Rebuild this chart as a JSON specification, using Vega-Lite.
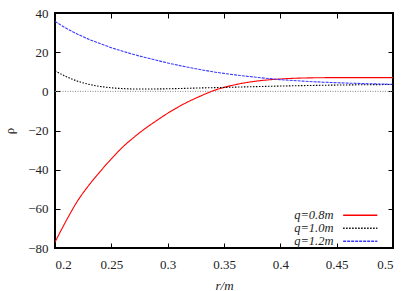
{
  "$schema": "https://vega.github.io/schema/vega-lite/v6.json",
  "width": 338,
  "height": 235,
  "autosize": "none",
  "padding": {"left": 55, "top": 13, "right": 22, "bottom": 43},
  "background": "white",
  "config": {
    "view": {"stroke": "black", "strokeWidth": 2},
    "font": "Liberation Serif",
    "style": {"guide-label": {"font": "Liberation Serif"}, "guide-title": {"font": "Liberation Serif"}},
    "axis": {
      "labelFont": "Liberation Serif",
      "titleFont": "Liberation Serif",
      "labelFontSize": 13,
      "titleFontSize": 13,
      "labelColor": "#222",
      "titleColor": "#222",
      "grid": false,
      "domain": false,
      "tickColor": "black",
      "tickSize": -5,
      "labelPadding": 15
    },
    "legend": {
      "labelFont": "Liberation Serif",
      "labelFontSize": 12.5,
      "labelFontStyle": "italic",
      "labelColor": "#222"
    }
  },
  "datasets": {
    "curves": [
      {"r": 0.2, "rho": -77, "q": "q=0.8m"},
      {"r": 0.21, "rho": -66, "q": "q=0.8m"},
      {"r": 0.22, "rho": -56, "q": "q=0.8m"},
      {"r": 0.23, "rho": -48, "q": "q=0.8m"},
      {"r": 0.24, "rho": -41, "q": "q=0.8m"},
      {"r": 0.25, "rho": -34.5, "q": "q=0.8m"},
      {"r": 0.26, "rho": -28.5, "q": "q=0.8m"},
      {"r": 0.27, "rho": -23.5, "q": "q=0.8m"},
      {"r": 0.28, "rho": -19, "q": "q=0.8m"},
      {"r": 0.29, "rho": -15, "q": "q=0.8m"},
      {"r": 0.3, "rho": -11.2, "q": "q=0.8m"},
      {"r": 0.31, "rho": -7.8, "q": "q=0.8m"},
      {"r": 0.32, "rho": -4.8, "q": "q=0.8m"},
      {"r": 0.33, "rho": -2.2, "q": "q=0.8m"},
      {"r": 0.34, "rho": 0.2, "q": "q=0.8m"},
      {"r": 0.35, "rho": 2.0, "q": "q=0.8m"},
      {"r": 0.36, "rho": 3.4, "q": "q=0.8m"},
      {"r": 0.37, "rho": 4.5, "q": "q=0.8m"},
      {"r": 0.38, "rho": 5.3, "q": "q=0.8m"},
      {"r": 0.39, "rho": 5.9, "q": "q=0.8m"},
      {"r": 0.4, "rho": 6.3, "q": "q=0.8m"},
      {"r": 0.42, "rho": 6.8, "q": "q=0.8m"},
      {"r": 0.45, "rho": 7.0, "q": "q=0.8m"},
      {"r": 0.5, "rho": 7.0, "q": "q=0.8m"},
      {"r": 0.2, "rho": 10.5, "q": "q=1.0m"},
      {"r": 0.21, "rho": 7.5, "q": "q=1.0m"},
      {"r": 0.22, "rho": 5.2, "q": "q=1.0m"},
      {"r": 0.23, "rho": 3.6, "q": "q=1.0m"},
      {"r": 0.24, "rho": 2.5, "q": "q=1.0m"},
      {"r": 0.25, "rho": 1.8, "q": "q=1.0m"},
      {"r": 0.26, "rho": 1.4, "q": "q=1.0m"},
      {"r": 0.27, "rho": 1.2, "q": "q=1.0m"},
      {"r": 0.28, "rho": 1.2, "q": "q=1.0m"},
      {"r": 0.3, "rho": 1.3, "q": "q=1.0m"},
      {"r": 0.32, "rho": 1.6, "q": "q=1.0m"},
      {"r": 0.35, "rho": 2.0, "q": "q=1.0m"},
      {"r": 0.4, "rho": 2.7, "q": "q=1.0m"},
      {"r": 0.45, "rho": 3.2, "q": "q=1.0m"},
      {"r": 0.5, "rho": 3.5, "q": "q=1.0m"},
      {"r": 0.2, "rho": 35.7, "q": "q=1.2m"},
      {"r": 0.21, "rho": 32.2, "q": "q=1.2m"},
      {"r": 0.22, "rho": 29.2, "q": "q=1.2m"},
      {"r": 0.23, "rho": 26.6, "q": "q=1.2m"},
      {"r": 0.24, "rho": 24.4, "q": "q=1.2m"},
      {"r": 0.25, "rho": 22.3, "q": "q=1.2m"},
      {"r": 0.26, "rho": 20.5, "q": "q=1.2m"},
      {"r": 0.27, "rho": 18.8, "q": "q=1.2m"},
      {"r": 0.28, "rho": 17.3, "q": "q=1.2m"},
      {"r": 0.29, "rho": 15.9, "q": "q=1.2m"},
      {"r": 0.3, "rho": 14.5, "q": "q=1.2m"},
      {"r": 0.32, "rho": 12.1, "q": "q=1.2m"},
      {"r": 0.34, "rho": 10.0, "q": "q=1.2m"},
      {"r": 0.36, "rho": 8.4, "q": "q=1.2m"},
      {"r": 0.38, "rho": 7.1, "q": "q=1.2m"},
      {"r": 0.4, "rho": 6.0, "q": "q=1.2m"},
      {"r": 0.42, "rho": 5.2, "q": "q=1.2m"},
      {"r": 0.45, "rho": 4.4, "q": "q=1.2m"},
      {"r": 0.5, "rho": 3.6, "q": "q=1.2m"}
    ],
    "zero": [
      {"r": 0.2, "rho": 0},
      {"r": 0.5, "rho": 0}
    ]
  },
  "layer": [
    {
      "data": {"name": "zero"},
      "mark": {"type": "line", "color": "#888888", "strokeWidth": 1, "strokeDash": [1, 1.5]},
      "encoding": {
        "x": {"field": "r", "type": "quantitative", "axis": {"orient": "top", "labels": false, "title": null, "values": [0.2, 0.25, 0.3, 0.35, 0.4, 0.45, 0.5]}},
        "y": {"field": "rho", "type": "quantitative", "axis": {"orient": "right", "labels": false, "title": null, "values": [-80, -60, -40, -20, 0, 20, 40]}}
      }
    },
    {
      "data": {"name": "curves"},
      "mark": {"type": "line", "strokeWidth": 1.1, "clip": true, "interpolate": "monotone"},
      "encoding": {
        "x": {"field": "r", "type": "quantitative",
              "scale": {"domain": [0.2, 0.5], "nice": false, "zero": false},
              "axis": {"title": "r/m", "labelFont": "Liberation Serif", "titleFontStyle": "italic", "titleFontWeight": "normal", "values": [0.2, 0.25, 0.3, 0.35, 0.4, 0.45, 0.5], "format": "~g", "titlePadding": 8}},
        "y": {"field": "rho", "type": "quantitative",
              "scale": {"domain": [-80, 40], "nice": false},
              "axis": {"title": "ρ", "labelFont": "Liberation Serif", "labelPadding": 12, "titleFontWeight": "normal", "values": [-80, -60, -40, -20, 0, 20, 40], "titlePadding": 11}},
        "color": {"field": "q", "type": "nominal",
                  "scale": {"domain": ["q=0.8m", "q=1.0m", "q=1.2m"], "range": ["#ff0000", "#000000", "#3a3aff"]},
                  "legend": {"title": null, "orient": "none", "legendX": 299, "legendY": 196, "symbolType": "M-5.7,0H5.7", "symbolSize": 36, "symbolStrokeWidth": 1.3, "labelAlign": "right", "labelOffset": -33, "rowPadding": 0, "padding": 0}},
        "strokeDash": {"field": "q", "type": "nominal",
                  "scale": {"domain": ["q=0.8m", "q=1.0m", "q=1.2m"], "range": [[1, 0], [1.5, 1.5], [3, 1]]},
                  "legend": null}
      }
    }
  ],
  "resolve": {"axis": {"x": "independent", "y": "independent"}}
}
